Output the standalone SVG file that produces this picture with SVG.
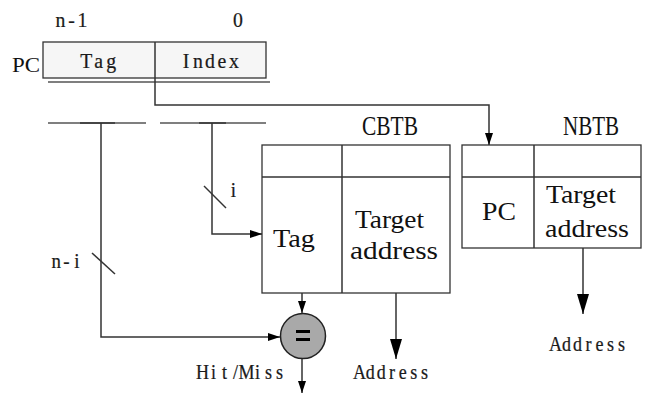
<svg xmlns="http://www.w3.org/2000/svg" width="645" height="394" viewBox="0 0 645 394">
  <defs>
    <marker id="ah" viewBox="0 0 12 8" refX="12" refY="4" markerWidth="12" markerHeight="8" markerUnits="userSpaceOnUse" orient="auto">
      <path d="M0,0 L12,4 L0,8 Z" fill="#000"/>
    </marker>
    <marker id="ahBig" viewBox="0 0 20 12" refX="20" refY="6" markerWidth="20" markerHeight="12" markerUnits="userSpaceOnUse" orient="auto">
      <path d="M0,0 L20,6 L0,12 Z" fill="#000"/>
    </marker>
  </defs>
  <style>
    .box { fill: #ffffff; stroke: #333333; stroke-width: 1.3; }
    .reg { fill: #f6f6f6; stroke: #333333; stroke-width: 1.3; }
    .ln { fill: none; stroke: #333333; stroke-width: 1.5; }
    .bus { fill: none; stroke: #555555; stroke-width: 1.5; }
    /* fixed-pitch serif labels: one glyph per cell, slightly narrowed */
    .cell { font-family: "Liberation Serif", "DejaVu Serif", serif; fill: #1a1a1a; stroke: #1a1a1a; stroke-width: 0.25; text-anchor: middle; }
    .serif { font-family: "Liberation Serif", "DejaVu Serif", serif; fill: #111; }
  </style>

  <rect width="645" height="394" fill="#ffffff"/>

  <!-- PC register -->
  <g id="pc-register">
    <g transform="scale(0.9 1)">
      <text class="cell" x="67.22 79.44 91.67" y="27" font-size="22">n-1</text>
      <text class="cell" x="264.44" y="27" font-size="22">0</text>
    </g>
    <text class="serif" x="12" y="72" font-size="21" textLength="28" lengthAdjust="spacingAndGlyphs">PC</text>
    <rect class="reg" x="43" y="42" width="223" height="36"/>
    <line class="ln" x1="155" y1="42" x2="155" y2="78"/>
    <g transform="scale(0.9 1)">
      <text class="cell" x="95.83 109.72 123.61" y="68" font-size="22">Tag</text>
      <text class="cell" x="206.67 220 233.33 246.67 260" y="68" font-size="22">Index</text>
    </g>
    <line class="bus" x1="48" y1="82" x2="270" y2="82"/>
  </g>

  <!-- split buses -->
  <g id="bus-split">
    <line class="bus" x1="48" y1="123" x2="146" y2="123"/>
    <line class="ln" x1="80" y1="123" x2="115" y2="123" stroke="#222" stroke-width="1.8"/>
    <line class="bus" x1="160" y1="123" x2="266" y2="123"/>
    <line class="ln" x1="199" y1="123" x2="226" y2="123" stroke="#222" stroke-width="1.8"/>
  </g>

  <!-- CBTB -->
  <g id="cbtb">
    <text class="serif" x="362" y="135" font-size="27" textLength="56" lengthAdjust="spacingAndGlyphs">CBTB</text>
    <rect class="box" x="262" y="145" width="188" height="148"/>
    <line class="ln" x1="262" y1="177" x2="450" y2="177"/>
    <line class="ln" x1="342" y1="145" x2="342" y2="293"/>
    <text class="serif" x="273" y="247" font-size="26" textLength="42" lengthAdjust="spacingAndGlyphs">Tag</text>
    <text class="serif" x="355" y="228" font-size="26" textLength="69" lengthAdjust="spacingAndGlyphs">Target</text>
    <text class="serif" x="350" y="259" font-size="26" textLength="88" lengthAdjust="spacingAndGlyphs">address</text>
  </g>

  <!-- NBTB -->
  <g id="nbtb">
    <text class="serif" x="563" y="135" font-size="27" textLength="56" lengthAdjust="spacingAndGlyphs">NBTB</text>
    <rect class="box" x="462" y="145" width="179" height="103"/>
    <line class="ln" x1="462" y1="177" x2="641" y2="177"/>
    <line class="ln" x1="534" y1="145" x2="534" y2="248"/>
    <text class="serif" x="482" y="220" font-size="26" textLength="34" lengthAdjust="spacingAndGlyphs">PC</text>
    <text class="serif" x="546" y="203" font-size="26" textLength="70" lengthAdjust="spacingAndGlyphs">Target</text>
    <text class="serif" x="545" y="237" font-size="26" textLength="84" lengthAdjust="spacingAndGlyphs">address</text>
  </g>

  <!-- comparator -->
  <g id="comparator">
    <circle cx="303" cy="336" r="22.5" fill="#a9a9a9" stroke="#222" stroke-width="1.5"/>
    <rect x="296" y="330" width="14" height="3" fill="#000"/>
    <rect x="296" y="338" width="14" height="3" fill="#000"/>
  </g>

  <!-- bit-width and output labels -->
  <g id="labels" transform="scale(0.9 1)">
    <text class="cell" x="62.44 73.89 85.33" y="268" font-size="21">n-i</text>
    <text class="cell" x="259.44" y="197" font-size="21">i</text>
    <text class="cell" x="225 237.22 249.44 261.67 273.89 286.11 298.33 310.56" y="379" font-size="20">Hit/Miss</text>
    <text class="cell" x="399.37 411.43 423.49 435.56 447.62 459.68 471.74" y="379" font-size="20">Address</text>
    <text class="cell" x="617.22 629.44 641.67 653.89 666.11 678.33 690.56" y="351" font-size="20">Address</text>
  </g>

  <!-- connectors -->
  <g id="connectors">
    <!-- index field to NBTB -->
    <polyline class="ln" points="155,78 155,105 489,105 489,145" marker-end="url(#ah)"/>
    <!-- i bits to CBTB tag -->
    <polyline class="ln" points="212,123 212,234 262,234" marker-end="url(#ah)"/>
    <line class="ln" x1="204" y1="186" x2="226" y2="208" stroke-width="1.2"/>
    <!-- n-i bits to comparator -->
    <polyline class="ln" points="101,123 101,337 280,337" marker-end="url(#ah)"/>
    <line class="ln" x1="92" y1="253" x2="115" y2="274" stroke-width="1.2"/>
    <!-- CBTB tag to comparator -->
    <line class="ln" x1="302" y1="293" x2="302" y2="313" marker-end="url(#ah)"/>
    <!-- comparator output -->
    <line class="ln" x1="302" y1="359" x2="302" y2="393" marker-end="url(#ah)"/>
    <!-- CBTB target address out -->
    <line class="ln" x1="396" y1="293" x2="396" y2="359" marker-end="url(#ahBig)"/>
    <!-- NBTB target address out -->
    <line class="ln" x1="583" y1="248" x2="583" y2="314" marker-end="url(#ahBig)"/>
  </g>
</svg>
